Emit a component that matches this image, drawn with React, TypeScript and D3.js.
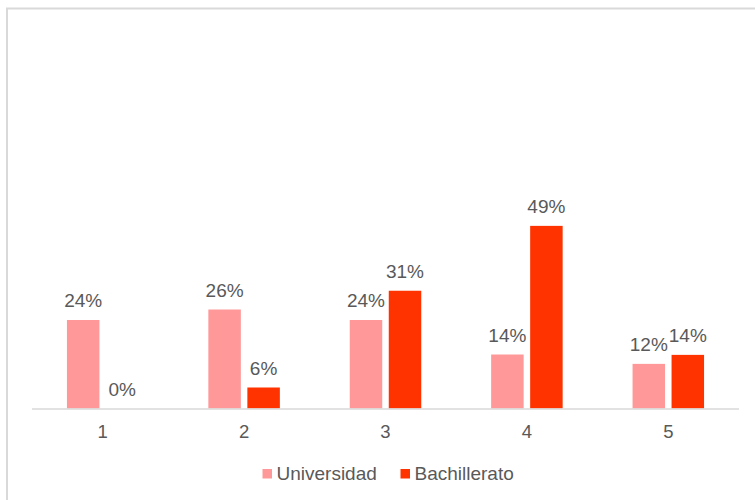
import React from "react";
import * as d3 from "d3";

const categories = ["1", "2", "3", "4", "5"];
const seriesNames = ["Universidad", "Bachillerato"];
const universidad = [23.6, 26.4, 23.6, 14.4, 11.9];
const bachillerato = [0, 5.6, 31.4, 48.7, 14.3];
const colors = ["#FF9999", "#FF3300"];

const W = 755;
const H = 500;
const FONT = "'Liberation Sans', Arial, sans-serif";
const TEXT = "#595959";

export default function App() {
  const x0 = d3.scaleBand<string>().domain(categories).range([32, 739]).padding(0);
  const span = 71.5;
  const x1 = d3
    .scaleBand<string>()
    .domain(seriesNames)
    .range([x0.bandwidth() / 2 - span / 2, x0.bandwidth() / 2 + span / 2])
    .paddingInner(0.167)
    .paddingOuter(0);
  const y = d3.scaleLinear().domain([0, 100]).range([408.5, 33.5]);
  const data = [universidad, bachillerato];

  return (
    <svg
      width={W}
      height={H}
      style={{ position: "absolute", left: 0, top: 0, background: "#fff" }}
      fontFamily={FONT}
    >
      <rect x={7} y={8.5} width={W + 20} height={H + 20} fill="#fff" stroke="#D9D9D9" strokeWidth={2} />
      {categories.map((c, i) => (
        <g key={c} transform={`translate(${x0(c)},0)`}>
          {seriesNames.map((s, j) => {
            const v = data[j][i];
            const bx = x1(s)!;
            const top = y(v);
            return (
              <g key={s}>
                {v > 0 && (
                  <rect x={bx} y={top} width={x1.bandwidth()} height={y(0) - top} fill={colors[j]} />
                )}
                <text
                  x={bx + x1.bandwidth() / 2}
                  y={top - 13}
                  textAnchor="middle"
                  fontSize={19}
                  fill={TEXT}
                >
                  {Math.round(v)}%
                </text>
              </g>
            );
          })}
          <text x={x0.bandwidth() / 2} y={438} textAnchor="middle" fontSize={18.5} fill={TEXT}>
            {c}
          </text>
        </g>
      ))}
      <line x1={32} x2={739} y1={409} y2={409} stroke="#D9D9D9" strokeWidth={1.5} />
      <g>
        <rect x={262.5} y={469} width={9.5} height={9.5} fill={colors[0]} />
        <text x={276.5} y={480} fontSize={19} fill={TEXT}>
          {seriesNames[0]}
        </text>
        <rect x={400.5} y={469} width={9.5} height={9.5} fill={colors[1]} />
        <text x={414.5} y={480} fontSize={19} fill={TEXT}>
          {seriesNames[1]}
        </text>
      </g>
    </svg>
  );
}
